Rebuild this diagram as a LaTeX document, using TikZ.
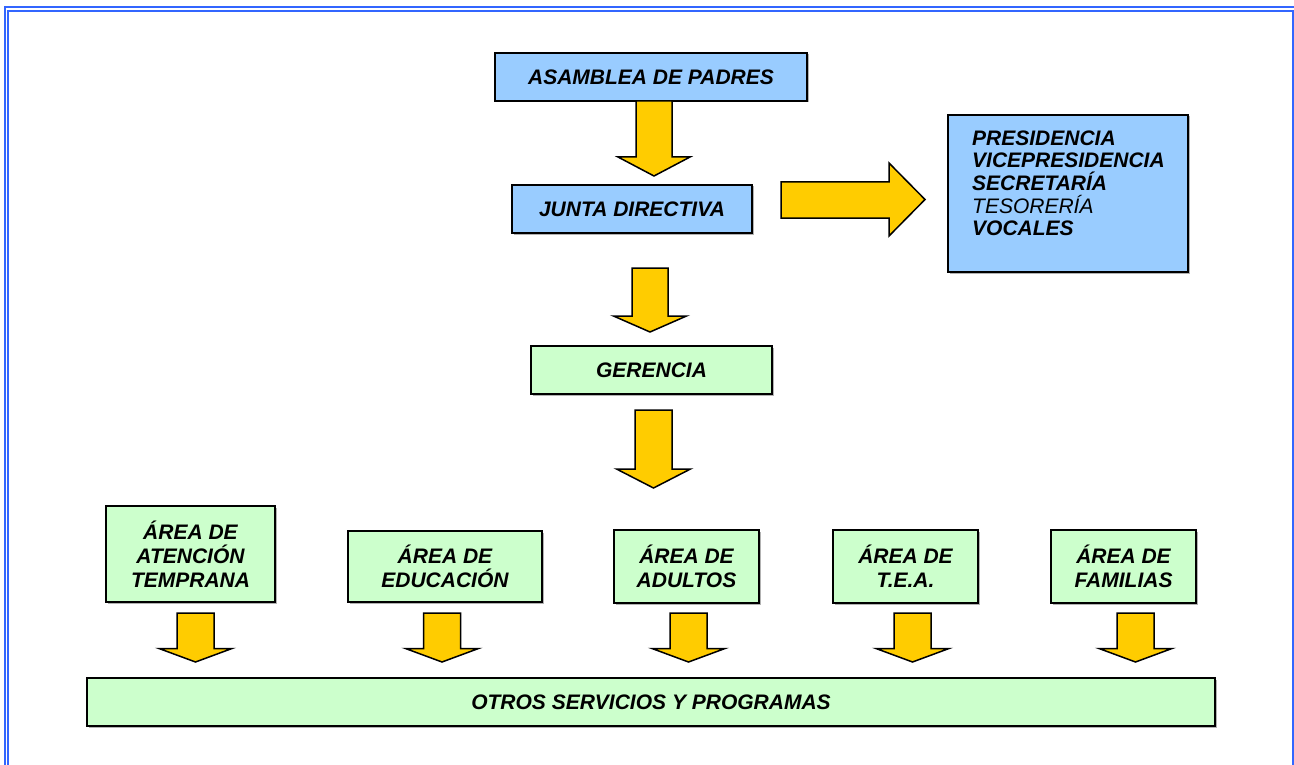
\documentclass[tikz,border=0pt]{standalone}
\usepackage{fontspec}
\setmainfont{Liberation Sans}
\usetikzlibrary{shadows,calc}
\definecolor{frameblue}{HTML}{3366FF}
\definecolor{boxblue}{HTML}{99CCFF}
\definecolor{boxgreen}{HTML}{CCFFCC}
\definecolor{arrowyellow}{HTML}{FFCC00}
\tikzset{
  box/.style={draw=black, line width=1.6pt, inner sep=0pt, align=center,
    font=\fontsize{21}{24}\selectfont\bfseries\itshape,
    drop shadow={shadow xshift=1.5pt, shadow yshift=-1.5pt, fill=black!30, opacity=1}},
  bluebox/.style={box, fill=boxblue},
  greenbox/.style={box, fill=boxgreen},
  blk/.style={draw=black, line width=1.5pt, fill=arrowyellow, line join=miter},
  frameline/.style={draw=frameblue, line width=2pt}
}
% #1 centre x, #2 top y, #3 head base y, #4 tip y, #5 shaft half width, #6 head half width
\newcommand\blkdown[6]{%
  \draw[blk] ({#1-#5},#2) -- ({#1+#5},#2) -- ({#1+#5},#3) -- ({#1+#6},#3)
    -- (#1,#4) -- ({#1-#6},#3) -- ({#1-#5},#3) -- cycle;}
\begin{document}
\begin{tikzpicture}[x=1pt,y=-1pt]
\useasboundingbox (0,0) rectangle (1294,765);
% page frame
\draw[frameline] (4,7) -- (1294,7);
\draw[frameline] (5,6) -- (5,765);
\draw[frameline] (8,765) -- (8,11) -- (1293,11) -- (1293,765);

% boxes
\node[bluebox, minimum width=312pt, minimum height=48pt] (asamblea) at (651,77) {ASAMBLEA DE PADRES};
\node[bluebox, minimum width=240pt, minimum height=48pt] (junta) at (632,209) {JUNTA DIRECTIVA};
\node[bluebox, minimum width=240pt, minimum height=157pt] (cargos) at (1068,193.5) {};
\node[anchor=north west, inner sep=0pt, align=left,
      font=\fontsize{21}{22.6}\selectfont\bfseries\itshape] (cargostxt) at (972,130.5)
  {PRESIDENCIA\\VICEPRESIDENCIA\\SECRETARÍA\\{\mdseries TESORERÍA}\\VOCALES};
\node[greenbox, minimum width=241pt, minimum height=48pt] (gerencia) at (651.5,370) {GERENCIA};

\node[greenbox, minimum width=169pt, minimum height=96pt] (atencion) at (190.5,554) {ÁREA DE\\ATENCIÓN\\TEMPRANA};
\node[greenbox, minimum width=194pt, minimum height=71pt] (educacion) at (445,566.5) {ÁREA DE\\EDUCACIÓN};
\node[greenbox, minimum width=145pt, minimum height=73pt] (adultos) at (686.5,566.5) {ÁREA DE\\ADULTOS};
\node[greenbox, minimum width=145pt, minimum height=73pt] (tea) at (905.5,566.5) {ÁREA DE\\T.E.A.};
\node[greenbox, minimum width=145pt, minimum height=73pt] (familias) at (1123.5,566.5) {ÁREA DE\\FAMILIAS};

\node[greenbox, minimum width=1128pt, minimum height=48pt] (otros) at (651,702) {OTROS SERVICIOS Y PROGRAMAS};

% block arrows
\blkdown{654}{101}{157}{176}{18}{36}
\blkdown{650}{268}{316}{332}{18}{36.5}
\blkdown{653.5}{410}{469}{488}{18.5}{37}
\draw[blk] (781,182) -- (889,182) -- (889,163) -- (925,199.5) -- (889,236)
  -- (889,218) -- (781,218) -- cycle;
\foreach \cx in {195.5,442,688.5,912.5,1135.5}{
  \blkdown{\cx}{613}{648.5}{662}{18.5}{36.5}
}
\end{tikzpicture}
\end{document}
